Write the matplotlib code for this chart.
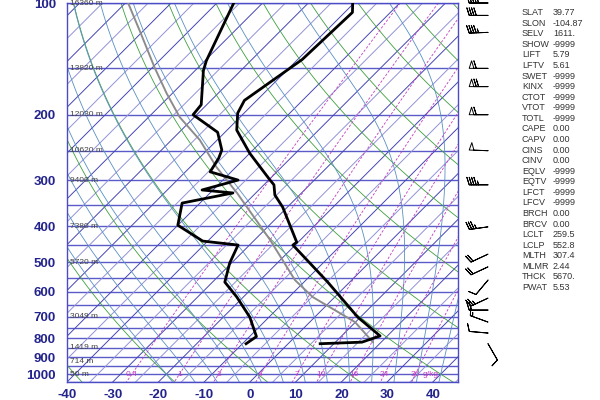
"""
Skew-T log-p sounding (Denver area) with wind barbs and an index table.
Values were read off the reference image.
"""

import numpy as np
import matplotlib
matplotlib.use("Agg")
import matplotlib.pyplot as plt
from matplotlib.ticker import NullLocator

plt.rcParams["font.family"] = ["Liberation Sans", "DejaVu Sans"]

# ---- sounding (hPa, degC) -------------------------------------------------
temp_p = [100, 106, 142, 183, 198, 220, 254, 300, 309, 329, 355, 441, 449,
          565, 702, 789, 820, 828]
temp_c = [-60.3, -58.3, -59.0, -62.7, -61.4, -57.9, -50.0, -39.7, -37.8,
          -35.4, -31.0, -20.3, -20.5, -4.8, 9.4, 18.4, 15.8, 7.0]

dewp_p = [100, 143, 152, 188, 200, 223, 249, 262, 285, 300, 319, 325, 346,
          397, 438, 449, 502, 565, 620, 702, 792, 828]
dewp_c = [-86.3, -79.7, -78.2, -71.2, -70.8, -61.6, -56.8, -55.7, -54.6,
          -46.7, -52.4, -45.0, -53.9, -50.0, -41.1, -32.5, -30.4, -27.3,
          -21.4, -14.2, -8.5, -9.2]

parcel_p = [100, 120, 149, 175, 203, 234, 277, 325, 435, 558, 620, 724, 820]
parcel_c = [-109.4, -100.3, -89.6, -81.3, -73.2, -63.8, -54.2, -44.1, -26.6,
            -12.4, -4.8, 9.9, 18.2]

# ---- winds (hPa, deg, kt) -------------------------------------------------
barb_p = [100, 108, 120, 150, 168, 200, 250, 309, 401, 475, 514, 558, 624,
          672, 724, 775, 828]
barb_dir = [270, 270, 268, 270, 270, 270, 272, 270, 262, 245, 245, 220, 245,
            270, 290, 275, 150]
barb_spd = [45, 40, 45, 60, 70, 60, 50, 45, 35, 20, 20, 10, 25, 20, 15, 10, 10]

# ---- labels ---------------------------------------------------------------
height_p = [100, 150, 200, 250, 300, 400, 500, 700, 850, 925, 1000]
height_txt = ["16360 m", "13820 m", "12030 m", "10620 m", "9400 m", "7380 m",
              "5720 m", "3049 m", "1419 m", "714 m", "50 m"]

mix_w = [0.4, 1, 2, 4, 7, 10, 16, 24, 36]
mix_txt = ["0.4", "1", "2", "4", "7", "10", "16", "24", "36"]

index_names = ["SLAT", "SLON", "SELV", "SHOW", "LIFT", "LFTV", "SWET", "KINX",
               "CTOT", "VTOT", "TOTL", "CAPE", "CAPV", "CINS", "CINV", "EQLV",
               "EQTV", "LFCT", "LFCV", "BRCH", "BRCV", "LCLT", "LCLP", "MLTH",
               "MLMR", "THCK", "PWAT"]
index_vals = ["39.77", "-104.87", "1611.", "-9999", "5.79", "5.61", "-9999",
              "-9999", "-9999", "-9999", "-9999", "0.00", "0.00", "0.00",
              "0.00", "-9999", "-9999", "-9999", "-9999", "0.00", "0.00",
              "259.5", "552.8", "307.4", "2.44", "5670.", "5.53"]

pres_ticks = [100, 200, 300, 400, 500, 600, 700, 800, 900, 1000]
temp_ticks = [-40, -30, -20, -10, 0, 10, 20, 30, 40]

isotherms = np.arange(-160, 55, 5)
theta_c = np.arange(-40, 260, 20)          # dry adiabats, degC at 1000 hPa
theta_w = np.arange(-20, 45, 5)            # moist adiabats, degC at 1000 hPa
isobars = np.arange(100, 1051, 50)

P_BOT, P_TOP = 1050.0, 100.0
SKEW = 35.2      # degC per ln(p) unit -> 45 deg isotherms on this box
XMIN, XMAX = -40, 45.5


def skew_x(t, p):
    return np.asarray(t, float) + SKEW * np.log(P_BOT / np.asarray(p, float))


def sat_vap(tc):
    return 6.112 * np.exp(17.67 * tc / (tc + 243.5))


def moist_profile(tw, p):
    # integrate the saturated lapse rate from 1000 hPa both ways
    def dtdp(tk, pp):
        es = sat_vap(tk - 273.15)
        rs = 0.622 * es / (pp - es)
        num = 287.04 * tk + 2.501e6 * rs
        den = 1005.7 + 2.501e6 ** 2 * rs * 0.622 / (287.04 * tk ** 2)
        return num / den / pp

    out = {}
    for seg in (np.linspace(1000, P_TOP, 200), np.linspace(1000, P_BOT, 20)):
        tk = tw + 273.15
        vals = [tk]
        for a, b in zip(seg[:-1], seg[1:]):
            k1 = dtdp(tk, a)
            k2 = dtdp(tk + k1 * (b - a), b)
            tk = tk + 0.5 * (k1 + k2) * (b - a)
            vals.append(tk)
        for pp, v in zip(seg, vals):
            out[pp] = v - 273.15
    ps = np.array(sorted(out))
    return ps, np.array([out[x] for x in ps])


fig = plt.figure(figsize=(6, 4), dpi=100)
W, H = 600, 400
ax = fig.add_axes([67 / W, 1 - 382 / H, (458 - 67) / W, (382 - 3) / H])
ax.set_yscale("log")
ax.set_ylim(P_BOT, P_TOP)
ax.set_xlim(XMIN, XMAX)

pp = np.geomspace(P_TOP, P_BOT, 120)

for p in isobars:
    ax.axhline(p, color="#5a5ac8", lw=1.0, zorder=1)

for t in isotherms:
    dark = (t % 10 == 0)
    ax.plot(skew_x(np.full_like(pp, t), pp), pp,
            color="#4646b4" if dark else "#9292d8", lw=0.7, zorder=1)

for th in theta_c:
    tk = (th + 273.15) * (pp / 1000.0) ** 0.2857 - 273.15
    ax.plot(skew_x(tk, pp), pp, color="#3f9f3f", lw=0.6, zorder=1)

for tw in theta_w:
    ps, ts = moist_profile(tw, pp)
    ax.plot(skew_x(ts, ps), ps, color="#5a8fc4", lw=0.6, zorder=1)

for w in mix_w:
    e = w * pp / (622.0 + w)
    td = 243.5 * np.log(e / 6.112) / (17.67 - np.log(e / 6.112))
    ax.plot(skew_x(td, pp), pp, color="#c23cc2", lw=0.6, ls=(0, (3, 2)),
            zorder=1)

for w, txt in zip(mix_w, mix_txt):
    e = w * 1000.0 / (622.0 + w)
    td = 243.5 * np.log(e / 6.112) / (17.67 - np.log(e / 6.112))
    x = skew_x(td, 1000.0)
    ax.text(x, 1000, txt, color="#c23cc2", fontsize=6, ha="center",
            va="center", zorder=3)
    if w == mix_w[-1]:
        ax.annotate("g/kg", xy=(x, 1000), xytext=(5, 0),
                    textcoords="offset points", color="#c23cc2", fontsize=6,
                    ha="left", va="center", zorder=3)

for p, txt in zip(height_p, height_txt):
    ax.text(0.008, p, txt, transform=ax.get_yaxis_transform(), fontsize=6,
            color="#444444", ha="left", va="center", zorder=3)

ax.plot(skew_x(parcel_c, parcel_p), parcel_p, color="#8c8c8c", lw=1.4,
        zorder=4)
ax.plot(skew_x(temp_c, temp_p), temp_p, color="black", lw=2.0, zorder=5)
ax.plot(skew_x(dewp_c, dewp_p), dewp_p, color="black", lw=2.0, zorder=5)

ax.yaxis.set_minor_locator(NullLocator())
ax.set_yticks(pres_ticks)
ax.set_yticklabels([str(p) for p in pres_ticks])
ax.set_xticks(temp_ticks)
ax.set_xticklabels([str(t) for t in temp_ticks])
ax.tick_params(length=0, labelsize=9.5, labelcolor="#23238c")
ax.tick_params(axis="y", pad=8)
ax.tick_params(axis="x", pad=5)
for lab in ax.get_xticklabels() + ax.get_yticklabels():
    lab.set_fontweight("bold")
for s in ax.spines.values():
    s.set_color("#4b4bc8")
    s.set_linewidth(1.0)

# wind barbs in a strip right of the diagram
bax = fig.add_axes([458 / W, 1 - 382 / H, 60 / W, (382 - 3) / H])
bax.set_yscale("log")
bax.set_ylim(P_BOT, P_TOP)
bax.set_xlim(0, 60)
bax.axis("off")
rad = np.deg2rad(barb_dir)
u = -np.array(barb_spd) * np.sin(rad)
v = -np.array(barb_spd) * np.cos(rad)
bax.barbs(np.full(len(barb_p), 30.0), barb_p, u, v, length=5.2,
          linewidth=0.7, barbcolor="black", flagcolor="white", clip_on=False)

# index table
for i, (n, val) in enumerate(zip(index_names, index_vals)):
    y = 1 - (12.7 + 10.57 * i) / H
    fig.text(522 / W, y, n, fontsize=6.5, color="#333333", va="center")
    fig.text(553 / W, y, val, fontsize=6.5, color="#333333", va="center")

fig.savefig("out.png", dpi=100)
